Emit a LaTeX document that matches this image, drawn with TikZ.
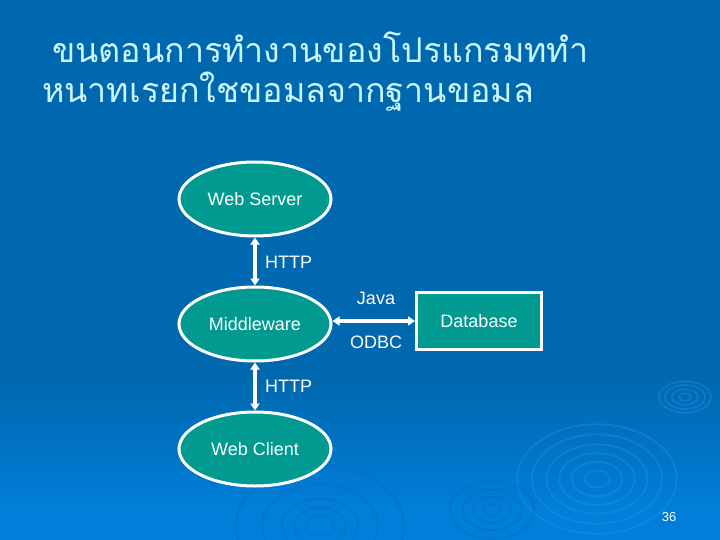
\documentclass[tikz,border=0pt]{standalone}
\usepackage{fontspec}
\setmainfont{Liberation Sans}
\newfontfamily\thaifont[Script=Thai]{Loma}
\usetikzlibrary{shapes.geometric,arrows.meta}
\definecolor{bgtop}{HTML}{0068AE}
\definecolor{bgmid}{HTML}{0068AE}
\definecolor{bgbot}{HTML}{0085E6}
\definecolor{teal}{HTML}{009A90}
\definecolor{titlecol}{HTML}{CCF6FF}
\definecolor{ripple}{HTML}{2A9AF0}
\definecolor{rippledark}{HTML}{0668B8}
\pgfdeclareverticalshading{slidebg}{100bp}{color(0bp)=(bgbot); color(28bp)=(bgbot!75!bgmid); color(40bp)=(bgmid); color(100bp)=(bgtop)}
\tikzset{
  x=1pt,y=-1pt,
  oval/.style={ellipse,draw=white,fill=teal,line width=3pt,minimum width=152pt,minimum height=74pt,inner sep=0pt,text=white,font=\fontsize{18}{20}\selectfont},
  dbbox/.style={rectangle,draw=white,fill=teal,line width=3pt,minimum width=125pt,minimum height=57pt,inner sep=0pt,text=white,font=\fontsize{18}{20}\selectfont},
  lbl/.style={text=white,inner sep=0pt,font=\fontsize{18}{20}\selectfont},
  link/.style={white,line width=3.2pt,{Triangle[width=9pt,length=7pt]}-{Triangle[width=9pt,length=7pt]}},
  ttl/.style={text=titlecol,inner sep=0pt,anchor=west,font=\thaifont\fontsize{34}{38}\selectfont},
  rip/.style={draw=ripple,line width=1.6pt,opacity=.35},
  ripd/.style={draw=rippledark,line width=1.8pt,opacity=.35},
}
\begin{document}
\begin{tikzpicture}
\useasboundingbox (0,0) rectangle (720,540);
\shade[shading=slidebg] (0,0) rectangle (720,540);
% ripples
\begin{scope}
\clip (0,0) rectangle (720,540);
\foreach \r in {12,24,36,48,62,76}{\draw[rip] (597,479) ellipse ({\r*1.05} and {\r*.72});}
\foreach \r in {8,18,28,40}{\draw[ripd] (492,510) ellipse ({\r*1.05} and {\r*.72});}
\foreach \r in {6,13,20,26}{\draw[rip] (685,397) ellipse ({\r} and {\r*.6});}
\foreach \r in {14,26,38,58,84}{\draw[ripd] (320,526) ellipse ({\r} and {\r*.72});}
\end{scope}
% title
\node[ttl] (title1) at (52,47) {ขนตอนการทำงานของโปรแกรมททำ};
\node[ttl] (title2) at (42,92) {หนาทเรยกใชขอมลจากฐานขอมล};
% nodes
\node[oval] (server) at (255,199) {Web Server};
\node[oval] (middle) at (255,324) {Middleware};
\node[oval] (client) at (255,449) {Web Client};
\node[dbbox] (db) at (479,321) {Database};
% connectors
\draw[link] (server) -- (middle);
\draw[link] (middle) -- (client);
\draw[link] (db.west -| middle.east) -- (db.west);
% labels
\node[lbl,anchor=west] (http1) at (265,262) {HTTP};
\node[lbl,anchor=west] (http2) at (265,386) {HTTP};
\node[lbl] (java) at (376,298) {Java};
\node[lbl] (odbc) at (376,342) {ODBC};
\node[text=white,inner sep=0pt,font=\fontsize{13}{15}\selectfont] (num) at (669,517) {36};
\end{tikzpicture}
\end{document}
